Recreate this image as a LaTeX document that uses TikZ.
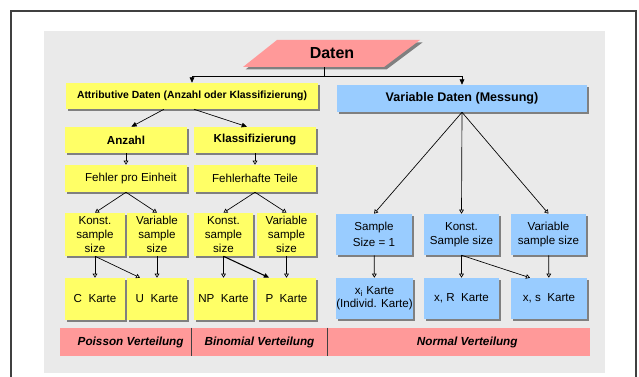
\documentclass[tikz,border=0pt]{standalone}
\usepackage{fontspec}
\setmainfont{Liberation Sans}
\usetikzlibrary{arrows.meta,shadows,positioning}

\definecolor{ylw}{RGB}{255,255,102}
\definecolor{blu}{RGB}{153,204,255}
\definecolor{pnk}{RGB}{255,153,153}
\definecolor{bggray}{RGB}{234,234,234}
\definecolor{shd}{RGB}{128,128,128}
\definecolor{frm}{RGB}{64,64,64}

\tikzset{
  box/.style={inner sep=0pt, align=center,
    font=\fontsize{8.7pt}{10.5pt}\selectfont,
    drop shadow={shadow xshift=1.8pt, shadow yshift=-1.8pt, fill=shd, opacity=1}},
  ybox/.style={box, fill=ylw},
  bbox/.style={box, fill=blu},
  dist/.style={fill=pnk, inner sep=0pt, minimum height=21pt, anchor=west,
    font=\bfseries\itshape\fontsize{8.8pt}{10pt}\selectfont},
  farr/.style={-{Triangle[width=3.5pt,length=4pt]}, line width=0.5pt},
  oarr/.style={-{Triangle[open,width=3.5pt,length=3pt]}, line width=0.5pt},
}

\begin{document}
\begin{tikzpicture}[x=0.75pt,y=-0.75pt]
  \useasboundingbox (0,0) rectangle (639,377);
  % frame and background
  \draw[frm, line width=0.9pt] (11,385) -- (11,11) -- (636,11) -- (636,385);
  \fill[bggray] (44,31) rectangle (605,373);

  % top
  \fill[shd] (245.5,69.5) -- (279.5,42.5) -- (422.5,42.5) -- (386.5,69.5) -- cycle;
  \fill[pnk] (243,67) -- (277,40) -- (420,40) -- (384,67) -- cycle;
  \node[inner sep=0pt, minimum height=20.25pt, font=\bfseries\fontsize{12pt}{14pt}\selectfont] (daten) at (332,53.5) {Daten};
  \coordinate (split) at (324,76);

  \begin{scope}[every node/.style={ybox}]
    \node[minimum width=189pt, minimum height=19.5pt, font=\bfseries\fontsize{7.8pt}{9pt}\selectfont] (attr) at (192,96) {Attributive Daten (Anzahl oder Klassifizierung)};
    \node[minimum width=91.5pt, minimum height=19.5pt, font=\bfseries\fontsize{8.7pt}{10pt}\selectfont] (anz) at (126,140) {Anzahl};
    \node[minimum width=91.5pt, minimum height=19.5pt, font=\bfseries\fontsize{8.7pt}{10pt}\selectfont] (klass) at (255,140) {Klassifizierung};
    \node[minimum width=91.5pt, minimum height=20.25pt] (fpe) at (126,178.5) {\ \ \ Fehler pro Einheit};
    \node[minimum width=91.5pt, minimum height=20.25pt] (ft) at (255,178.5) {Fehlerhafte Teile};
    \node[minimum width=45pt, minimum height=32.25pt] (pk) at (95,234.5) {Konst.\\sample\\size};
    \node[minimum width=45pt, minimum height=32.25pt] (pv) at (157,234.5) {Variable\\sample\\size};
    \node[minimum width=44.25pt, minimum height=32.25pt] (bk) at (223.5,234.5) {Konst.\\sample\\size};
    \node[minimum width=44.25pt, minimum height=32.25pt] (bv) at (286.5,234.5) {Variable\\sample\\size};
    \node[minimum width=45pt, minimum height=31.5pt] (ck) at (95,299) {C\ \ Karte};
    \node[minimum width=45pt, minimum height=31.5pt] (uk) at (157,299) {U\ \ Karte};
    \node[minimum width=44.25pt, minimum height=31.5pt] (npk) at (223.5,299) {NP\ \ Karte};
    \node[minimum width=44.25pt, minimum height=31.5pt] (pkarte) at (286.5,299) {P\ \ Karte};
  \end{scope}

  \begin{scope}[every node/.style={bbox}]
    \node[minimum width=187.5pt, minimum height=20.25pt, font=\bfseries\fontsize{9.4pt}{11pt}\selectfont] (var) at (462,98.5) {Variable Daten (Messung)};
    \node[minimum width=57pt, minimum height=30.75pt, font=\fontsize{8.7pt}{12pt}\selectfont] (s1) at (374,234.5) {Sample\\Size = 1};
    \node[minimum width=56.25pt, minimum height=30.75pt] (ks) at (461.5,234.5) {Konst.\\Sample size};
    \node[minimum width=56.25pt, minimum height=30.75pt] (vs) at (548.5,234.5) {Variable\\sample size};
    \node[minimum width=57.75pt, minimum height=30.75pt, font=\fontsize{8.7pt}{9.5pt}\selectfont] (xi) at (374.5,298.5) {x\textsubscript{i} Karte\\(Individ. Karte)};
    \node[minimum width=56.25pt, minimum height=30.75pt] (xr) at (461.5,298.5) {x, R\ \ Karte};
    \node[minimum width=57pt, minimum height=30.75pt] (xs) at (549,298.5) {x, s\ \ Karte};
  \end{scope}

  % distributions
  \node[dist, minimum width=98.25pt] (poisson) at (60,342) {\ \ \ Poisson Verteilung};
  \node[dist, minimum width=101.6pt] (binom) at (poisson.east) {Binomial Verteilung};
  \node[dist, minimum width=196.9pt] (normal) at (binom.east) {\ \ \ \ \ Normal Verteilung};
  \draw[frm, line width=0.8pt] (poisson.north east) -- (poisson.south east);
  \draw[frm, line width=0.8pt] (binom.north east) -- (binom.south east);

  % connectors
  \draw[line width=0.5pt] (split |- daten.south) -- (split);
  \draw[farr] (split) -| (attr);
  \draw[farr] (split) -| (var);
  \draw[farr] ([xshift=-21pt]attr.south) -- ([xshift=4pt]anz.north);
  \draw[farr] ([xshift=1.5pt]attr.south) -- ([xshift=-6pt]klass.north);
  \draw[oarr] (anz) -- (fpe);
  \draw[oarr] (klass) -- (ft);
  \draw[oarr] (fpe.south) -- (pk.north);
  \draw[oarr] (fpe.south) -- (pv.north);
  \draw[oarr] (ft.south) -- (bk.north);
  \draw[oarr] (ft.south) -- (bv.north);
  \draw[oarr] (pk) -- (ck);
  \draw[oarr] (pk.south) -- ([xshift=-12.75pt]uk.north);
  \draw[oarr] (pv) -- (uk);
  \draw[oarr] (bk) -- (npk);
  \draw[farr, line width=0.8pt] (bk.south) -- ([xshift=-13pt]pkarte.north);
  \draw[oarr] (bv) -- (pkarte);
  \draw[oarr] (var.south) -- (s1.north);
  \draw[oarr] (var.south) -- (ks.north);
  \draw[oarr] (var.south) -- (vs.north);
  \draw[oarr] (s1) -- (xi);
  \draw[oarr] (ks) -- (xr);
  \draw[oarr] (ks.south) -- ([xshift=-14.25pt]xs.north);
  \draw[oarr] (vs) -- (xs);
\end{tikzpicture}
\end{document}
